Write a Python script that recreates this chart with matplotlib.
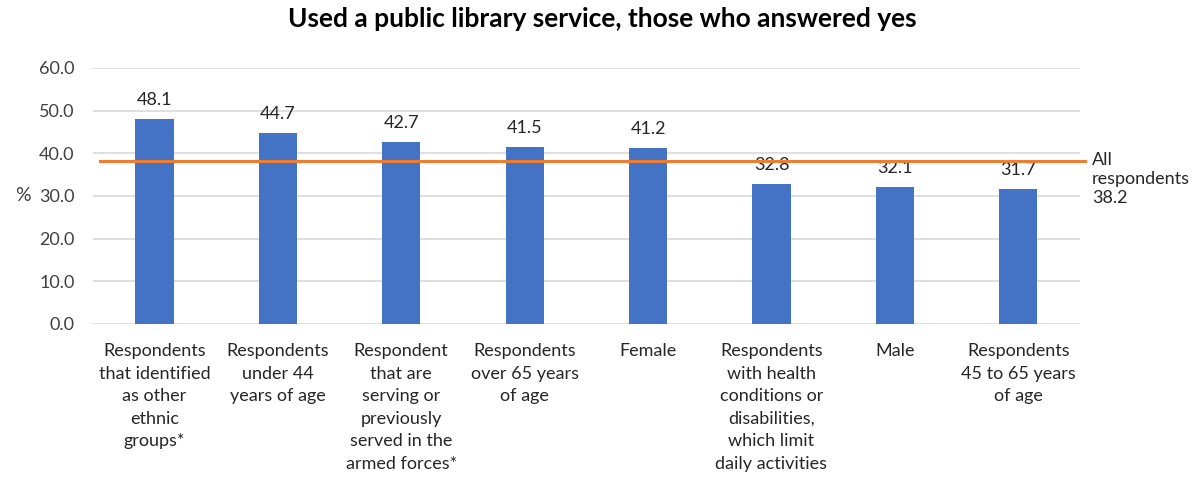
import numpy as np
import matplotlib.pyplot as plt
from matplotlib import transforms

plt.rcParams['font.family'] = ['Lato', 'DejaVu Sans']

# Data
categories = [
    "Respondents\nthat identified\nas other\nethnic\ngroups*",
    "Respondents\nunder 44\nyears of age",
    "Respondent\nthat are\nserving or\npreviously\nserved in the\narmed forces*",
    "Respondents\nover 65 years\nof age",
    "Female",
    "Respondents\nwith health\nconditions or\ndisabilities,\nwhich limit\ndaily activities",
    "Male",
    "Respondents\n45 to 65 years\nof age",
]
values = [48.1, 44.7, 42.7, 41.5, 41.2, 32.8, 32.1, 31.7]
all_respondents = 38.2

fig = plt.figure(figsize=(12.04, 4.82), dpi=100)
ax = fig.add_axes([0.077, 0.328, 0.820, 0.531])

x = np.arange(len(values))
ax.bar(x, values, width=0.31, color="#4472C4", zorder=2)

# bar labels
for xi, v in zip(x, values):
    ax.annotate(f"{v:.1f}", (xi, v), xytext=(0, 8), textcoords="offset points",
                ha="center", va="bottom", fontsize=13, color="#262626")

# average line, runs a bit past the plot area
trans = transforms.blended_transform_factory(ax.transAxes, ax.transData)
ax.plot([0.007, 1.005], [all_respondents, all_respondents], color="#ED7D31",
        lw=2.2, transform=trans, clip_on=False, zorder=3)
ax.text(1.012, all_respondents + 2.0, f"All\nrespondents\n{all_respondents}",
        transform=trans, ha="left", va="top", fontsize=13, color="#262626",
        linespacing=1.2)

ax.set_xlim(-0.5, len(values) - 0.5)
ax.set_ylim(0, 60)
ax.set_yticks(np.arange(0, 61, 10))
ax.set_yticklabels([f"{t:.1f}" for t in np.arange(0, 61, 10)], fontsize=13, color="#404040")
ax.set_xticks(x)
ax.set_xticklabels(categories, fontsize=13, color="#262626", linespacing=1.5, va="top")
ax.tick_params(axis="both", length=0)
ax.tick_params(axis="x", pad=14)
ax.tick_params(axis="y", pad=13)

ax.grid(axis="y", color="#D9D9D9", lw=1.2, zorder=0)
for s in ax.spines.values():
    s.set_visible(False)

ax.set_ylabel("%", fontsize=14, rotation=0, color="#404040", labelpad=12, va="center")

fig.suptitle("Used a public library service, those who answered yes", x=0.5, y=0.985,
             fontsize=19, fontweight="bold", color="#000000")

fig.savefig("out.png", dpi=100)
